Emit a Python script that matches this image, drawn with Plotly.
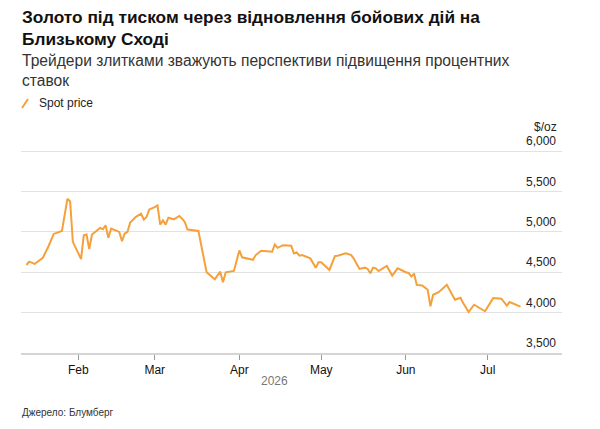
import plotly.graph_objects as go

dates = [
    "2026-01-13", "2026-01-14", "2026-01-16", "2026-01-17", "2026-01-19", "2026-01-21",
    "2026-01-23", "2026-01-26", "2026-01-28", "2026-01-29", "2026-01-30",
    "2026-02-02", "2026-02-03", "2026-02-04", "2026-02-05", "2026-02-06", "2026-02-09",
    "2026-02-10", "2026-02-11", "2026-02-12", "2026-02-13", "2026-02-16", "2026-02-17",
    "2026-02-18", "2026-02-19", "2026-02-20", "2026-02-22", "2026-02-24", "2026-02-25",
    "2026-02-26", "2026-02-27", "2026-03-01", "2026-03-02",
    "2026-03-03", "2026-03-04", "2026-03-05", "2026-03-06", "2026-03-08", "2026-03-10",
    "2026-03-11", "2026-03-12", "2026-03-13", "2026-03-17", "2026-03-20", "2026-03-23",
    "2026-03-25", "2026-03-26", "2026-03-27", "2026-03-30", "2026-04-01", "2026-04-02",
    "2026-04-06", "2026-04-07", "2026-04-09", "2026-04-13", "2026-04-14", "2026-04-15",
    "2026-04-17", "2026-04-20", "2026-04-21", "2026-04-22", "2026-04-23", "2026-04-24",
    "2026-04-27", "2026-04-28", "2026-04-29", "2026-04-30", "2026-05-01",
    "2026-05-04", "2026-05-05", "2026-05-06", "2026-05-07", "2026-05-10", "2026-05-12",
    "2026-05-13", "2026-05-15", "2026-05-17", "2026-05-18", "2026-05-19", "2026-05-20",
    "2026-05-21", "2026-05-22", "2026-05-25", "2026-05-27", "2026-05-29", "2026-06-01",
    "2026-06-02", "2026-06-03", "2026-06-04", "2026-06-05", "2026-06-07", "2026-06-09",
    "2026-06-10", "2026-06-11", "2026-06-13", "2026-06-16", "2026-06-19", "2026-06-21",
    "2026-06-22", "2026-06-24", "2026-06-26", "2026-06-30", "2026-07-03", "2026-07-06",
    "2026-07-08", "2026-07-09", "2026-07-11", "2026-07-13",
]
spot_price = [
    4590, 4631, 4603, 4631, 4680, 4816,
    4975, 5012, 5410, 5377, 4877,
    4664, 4959, 4967, 4787, 4967, 5049,
    5033, 5082, 4926, 5041, 5000, 4885,
    4980, 5000, 5115, 5184, 5225, 5152,
    5184, 5279, 5307, 5328,
    5090, 5143, 5090, 5176, 5156, 5197,
    5164, 5123, 5029, 5012, 4500, 4414,
    4508, 4377, 4500, 4516, 4770, 4685,
    4655, 4713, 4766, 4754, 4844, 4803,
    4836, 4828, 4734, 4746, 4705, 4713,
    4672, 4611, 4557, 4623, 4623,
    4529, 4607, 4701, 4705, 4734, 4713,
    4664, 4541, 4557, 4541, 4488, 4557,
    4549, 4516, 4578, 4459, 4549, 4500,
    4492, 4447, 4484, 4344, 4336, 4283,
    4078, 4221, 4254, 4344, 4160, 4185,
    4119, 4008, 4098, 4017, 4180, 4172,
    4086, 4131, 4107, 4074,
]
y_ticks = [3500, 4000, 4500, 5000, 5500, 6000]
y_tick_labels = ["3,500", "4,000", "4,500", "5,000", "5,500", "6,000"]

title_text = "Золото під тиском через відновлення бойових дій на<br>Близькому Сході"
subtitle_text = "Трейдери злитками зважують перспективи підвищення процентних<br>ставок"
series_name = "Spot price"
unit_text = "$/oz"
year_text = "2026"
source_text = "Джерело: Блумберг"

ORANGE = "#F5A03A"
FONT = "Liberation Sans, Arial, sans-serif"
TOP = 131      # pixel row of the plot-area top
BOTTOM = 353   # pixel row of the plot-area bottom
H = BOTTOM - TOP

fig = go.Figure()
fig.add_trace(go.Scatter(
    x=dates, y=spot_price, mode="lines", name=series_name,
    line=dict(color=ORANGE, width=2), showlegend=False,
))

fig.update_layout(
    width=600, height=429,
    margin=dict(l=21, r=38, t=TOP, b=429 - BOTTOM),
    paper_bgcolor="white", plot_bgcolor="white",
    font=dict(family=FONT, color="#222"),
    xaxis=dict(
        type="date",
        range=["2026-01-11", "2026-07-28 05:00"],
        dtick="M1", tick0="2026-02-01", tickformat="%b",
        ticks="outside", ticklen=5, tickwidth=1, tickcolor="#999",
        showgrid=False, zeroline=False,
        showline=True, linecolor="#d4d4d4", linewidth=1.5,
        tickfont=dict(size=12, color="#111"),
    ),
    yaxis=dict(
        range=[3500, 6250], side="right",
        tickvals=y_ticks, ticktext=y_tick_labels,
        ticklabelposition="inside", ticklabelshift=-10, ticklabelstandoff=3,
        showgrid=True, gridcolor="#e2e2e2", gridwidth=1,
        zeroline=False, showline=False, ticks="",
        tickfont=dict(size=12, color="#222"),
    ),
)

fig.add_annotation(text="<b>" + title_text + "</b>", xref="paper", yref="paper",
                   x=-0.002, y=1, xanchor="left", yanchor="top", showarrow=False, align="left",
                   yshift=TOP - 5, font=dict(size=17.3, color="#111"))
fig.add_annotation(text=subtitle_text, xref="paper", yref="paper",
                   x=-0.002, y=1, xanchor="left", yanchor="top", showarrow=False, align="left",
                   yshift=TOP - 50, font=dict(size=15.6, color="#333"))
fig.add_annotation(text=series_name, xref="paper", yref="paper",
                   x=(37 - 21) / 541, y=1, xanchor="left", yanchor="middle", showarrow=False,
                   yshift=TOP - 103, font=dict(size=12, color="#222"))
fig.add_shape(type="line", xref="paper", yref="paper",
              x0=(22 - 21) / 541, x1=(28 - 21) / 541,
              y0=1 + (TOP - 108) / H, y1=1 + (TOP - 99) / H,
              line=dict(color=ORANGE, width=2))
fig.add_annotation(text=unit_text, xref="paper", yref="paper",
                   x=1, y=1, xanchor="right", yanchor="middle", showarrow=False,
                   xshift=-3, yshift=TOP - 127, font=dict(size=12, color="#222"))
fig.add_annotation(text=year_text, xref="paper", yref="paper",
                   x=(274 - 21) / 541, y=0, xanchor="center", yanchor="middle", showarrow=False,
                   yshift=-(381 - BOTTOM), font=dict(size=12, color="#777"))
fig.add_annotation(text=source_text, xref="paper", yref="paper",
                   x=-0.002, y=0, xanchor="left", yanchor="middle", showarrow=False,
                   yshift=-(412 - BOTTOM), font=dict(size=10, color="#333"))

fig.write_html("out.html")
